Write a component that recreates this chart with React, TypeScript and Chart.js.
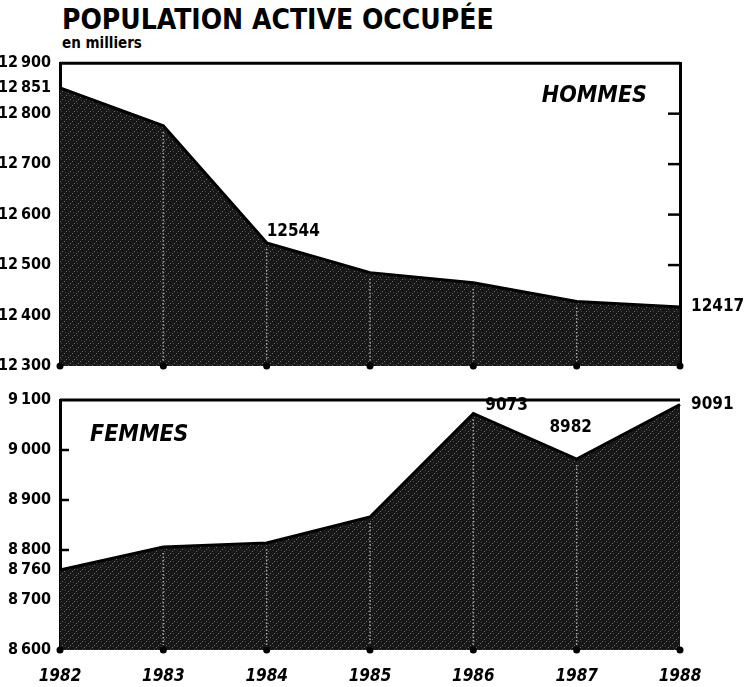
import { useEffect, useRef } from 'react';
import { Chart, registerables } from 'chart.js';

Chart.register(...registerables);

// ---- data ----
const years = ['1982', '1983', '1984', '1985', '1986', '1987', '1988'];
const hommes = [12851, 12776, 12544, 12485, 12465, 12428, 12417];
const femmes = [8760, 8806, 8814, 8866, 9073, 8982, 9091];
const hommesTicks = [12900, 12851, 12800, 12700, 12600, 12500, 12400, 12300];
const femmesTicks = [9100, 9000, 8900, 8800, 8760, 8700, 8600];
const hommesEndTick = [12417];
const femmesEndTick = [9091];
const hommesInnerTicks = [12800, 12700, 12600, 12500];
const femmesInnerTicks = [9000, 8900, 8800];

const FONT = "'Liberation Sans Narrow', 'DejaVu Sans Condensed', 'Liberation Sans', Arial, sans-serif";

function spaced(v: number) {
  const s = String(Math.round(v));
  return s.length > 3 ? s.slice(0, s.length - 3) + '\u2009' + s.slice(-3) : s;
}

function makePattern() {
  const c = document.createElement('canvas');
  c.width = 8;
  c.height = 8;
  const g = c.getContext('2d')!;
  g.fillStyle = '#181818';
  g.fillRect(0, 0, 8, 8);
  g.fillStyle = '#6a6a6a';
  for (let i = 0; i < 8; i += 2) g.fillRect(i, 7 - i, 1, 1);
  g.fillStyle = '#404040';
  g.fillRect(5, 5, 1, 1);
  g.fillRect(1, 2, 1, 1);
  return g.createPattern(c, 'repeat');
}

const overlayPlugin = {
  id: 'overlay',
  afterDatasetsDraw(chart: any, _args: any, opts: any) {
    const { ctx, chartArea } = chart;
    const meta = chart.getDatasetMeta(0);
    const values = chart.data.datasets[0].data as number[];
    ctx.save();
    // light dotted verticals inside the fill
    ctx.strokeStyle = 'rgba(200,200,200,0.8)';
    ctx.lineWidth = 1.5;
    ctx.setLineDash([1.5, 2]);
    meta.data.forEach((pt: any, i: number) => {
      if (i === 0 || i === meta.data.length - 1) return;
      ctx.beginPath();
      ctx.moveTo(pt.x, pt.y + 6);
      ctx.lineTo(pt.x, chartArea.bottom - 5);
      ctx.stroke();
    });
    ctx.setLineDash([]);
    // baseline dots
    ctx.fillStyle = '#000';
    meta.data.forEach((pt: any) => {
      ctx.beginPath();
      ctx.arc(pt.x, chartArea.bottom, 3.5, 0, Math.PI * 2);
      ctx.fill();
    });
    // top frame line
    ctx.strokeStyle = '#000';
    ctx.lineWidth = 3;
    ctx.beginPath();
    ctx.moveTo(chartArea.left, chartArea.top);
    ctx.lineTo(chartArea.right, chartArea.top);
    ctx.stroke();
    // inward tick marks
    const ys = chart.scales.y;
    ctx.lineWidth = 2.5;
    (opts.innerTicks || []).forEach((v: number) => {
      const py = ys.getPixelForValue(v);
      ctx.beginPath();
      if (opts.innerSide === 'right') {
        ctx.moveTo(chartArea.right - 12, py);
        ctx.lineTo(chartArea.right, py);
      } else {
        ctx.moveTo(chartArea.left, py);
        ctx.lineTo(chartArea.left + 9, py);
      }
      ctx.stroke();
    });
    // value labels
    ctx.fillStyle = '#000';
    ctx.font = `bold 17px ${FONT}`;
    ctx.textBaseline = 'middle';
    (opts.labels || []).forEach((l: any) => {
      const pt = meta.data[l.index];
      ctx.textAlign = l.align;
      ctx.fillText(String(values[l.index]), pt.x + l.dx, pt.y + l.dy);
    });
    // panel name
    ctx.font = `italic bold 23px ${FONT}`;
    ctx.textBaseline = 'alphabetic';
    ctx.textAlign = opts.nameAlign;
    const nx = opts.nameAlign === 'right' ? chartArea.right + opts.nameDx : chartArea.left + opts.nameDx;
    ctx.fillText(opts.name, nx, chartArea.top + opts.nameDy);
    ctx.restore();
  },
};

function buildConfig(p: any): any {
  const tickFont = { family: FONT, size: 16, weight: 'bold' };
  const xScale: any = {
    type: 'category',
    display: p.showX,
    offset: false,
    grid: { display: false },
    border: { display: false },
    ticks: {
      font: { family: FONT, size: 17, weight: 'bold', style: 'italic' },
      color: '#000',
      padding: 8,
      maxRotation: 0,
      autoSkip: false,
    },
  };
  if (p.showX) {
    xScale.afterFit = (s: any) => {
      s.height = 37;
    };
  }
  return {
    type: 'line',
    data: {
      labels: years,
      datasets: [
        {
          data: p.data,
          yAxisID: 'y',
          borderColor: '#000',
          borderWidth: 3,
          backgroundColor: p.pattern,
          fill: 'start',
          pointRadius: 0,
          tension: 0,
        },
      ],
    },
    options: {
      animation: false,
      responsive: false,
      layout: { padding: { top: p.padTop, bottom: p.padBottom, left: 0, right: 0 } },
      plugins: {
        legend: { display: false },
        tooltip: { enabled: false },
        overlay: p.overlay,
      },
      scales: {
        x: xScale,
        y: {
          position: 'left',
          min: p.min,
          max: p.max,
          grid: { display: false },
          border: { display: true, color: '#000', width: 3 },
          ticks: {
            font: tickFont,
            color: '#000',
            padding: 1,
            autoSkip: false,
            callback: (v: any) => spaced(Number(v)),
          },
          afterBuildTicks: (s: any) => {
            s.ticks = p.leftTicks.map((v: number) => ({ value: v }));
          },
          afterFit: (s: any) => {
            s.width = 60;
          },
        },
        y2: {
          position: 'right',
          min: p.min,
          max: p.max,
          grid: { display: false },
          border: { display: p.rightBorder, color: '#000', width: 3 },
          ticks: {
            font: { family: FONT, size: 17, weight: 'bold' },
            color: '#000',
            padding: 3,
            autoSkip: false,
            callback: (v: any) => String(v),
          },
          afterBuildTicks: (s: any) => {
            s.ticks = p.rightTicks.map((v: number) => ({ value: v }));
          },
          afterFit: (s: any) => {
            s.width = 71;
          },
        },
      },
    },
    plugins: [overlayPlugin],
  };
}

export default function App() {
  const topRef = useRef<HTMLCanvasElement>(null);
  const botRef = useRef<HTMLCanvasElement>(null);

  useEffect(() => {
    const pattern = makePattern();
    const c1 = new Chart(
      topRef.current!,
      buildConfig({
        data: hommes,
        min: 12300,
        max: 12900,
        leftTicks: hommesTicks,
        rightTicks: hommesEndTick,
        rightBorder: true,
        showX: false,
        padTop: 12,
        padBottom: 14,
        pattern,
        overlay: {
          innerTicks: hommesInnerTicks,
          innerSide: 'right',
          labels: [{ index: 2, dx: 0, dy: -11, align: 'left' }],
          name: 'HOMMES',
          nameAlign: 'right',
          nameDx: -33,
          nameDy: 39,
        },
      })
    );
    const c2 = new Chart(
      botRef.current!,
      buildConfig({
        data: femmes,
        min: 8600,
        max: 9100,
        leftTicks: femmesTicks,
        rightTicks: femmesEndTick,
        rightBorder: false,
        showX: true,
        padTop: 20,
        padBottom: 0,
        pattern,
        overlay: {
          innerTicks: femmesInnerTicks,
          innerSide: 'left',
          labels: [
            { index: 4, dx: 12, dy: -8, align: 'left' },
            { index: 5, dx: -6, dy: -31, align: 'center' },
          ],
          name: 'FEMMES',
          nameAlign: 'left',
          nameDx: 30,
          nameDy: 41,
        },
      })
    );
    return () => {
      c1.destroy();
      c2.destroy();
    };
  }, []);

  return (
    <div
      style={{
        position: 'absolute',
        left: 0,
        top: 0,
        width: 751,
        height: 687,
        background: '#fff',
        overflow: 'hidden',
      }}
    >
      <div
        style={{
          position: 'absolute',
          left: 62,
          top: 6,
          fontFamily: FONT,
          fontWeight: 'bold',
          fontSize: 28,
          lineHeight: 1,
          whiteSpace: 'nowrap',
          color: '#000',
        }}
      >
        POPULATION ACTIVE OCCUPÉE
      </div>
      <div
        style={{
          position: 'absolute',
          left: 62,
          top: 36,
          fontFamily: FONT,
          fontWeight: 'bold',
          fontSize: 15,
          lineHeight: 1,
          whiteSpace: 'nowrap',
          color: '#000',
        }}
      >
        en milliers
      </div>
      <canvas ref={topRef} width={751} height={330} style={{ position: 'absolute', left: 0, top: 50 }} />
      <canvas ref={botRef} width={751} height={307} style={{ position: 'absolute', left: 0, top: 380 }} />
    </div>
  );
}
